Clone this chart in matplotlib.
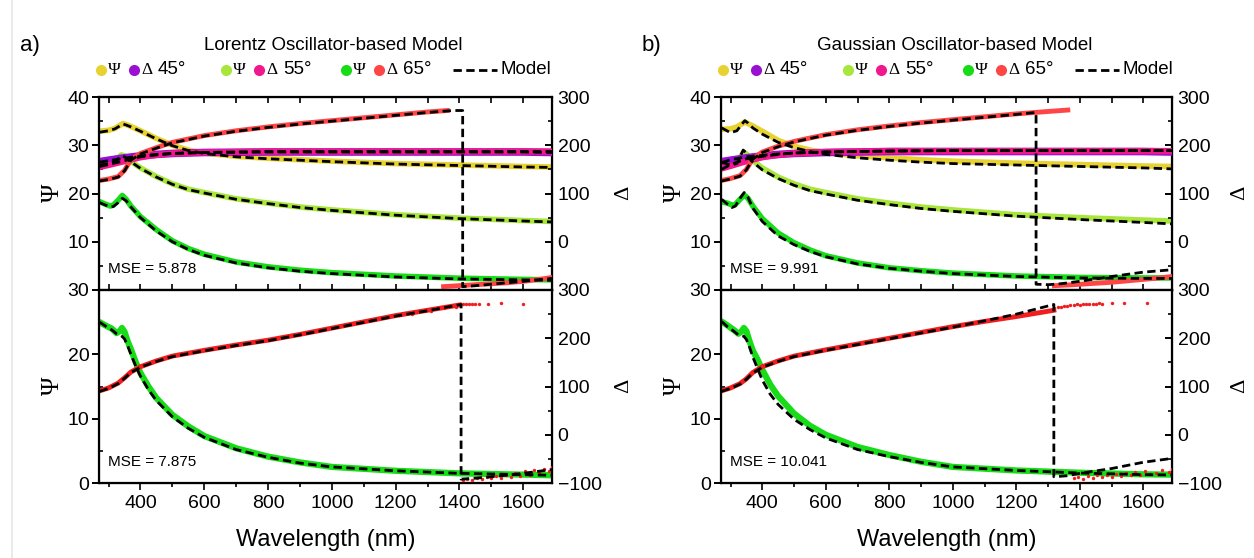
import matplotlib
matplotlib.use("Agg")
import matplotlib.pyplot as plt
from matplotlib.lines import Line2D
from matplotlib.ticker import MultipleLocator

# ---------------- DATA ----------------
# Panel a) Lorentz, top
a_wl_p45 = [272, 300, 320, 335, 345, 355, 370, 400, 450, 500, 550, 600, 700, 800, 900, 1000, 1200, 1400, 1600, 1690]
a_psi45 = [32.9, 33.1, 33.5, 34.1, 34.5, 34.3, 33.9, 33.0, 31.4, 30.0, 29.0, 28.4, 27.7, 27.3, 27.0, 26.7, 26.2, 25.9, 25.6, 25.5]
a_psi45_m = [32.7, 33.0, 33.4, 34.0, 34.4, 34.2, 33.8, 32.9, 31.3, 29.9, 28.9, 28.3, 27.6, 27.2, 26.9, 26.6, 26.1, 25.8, 25.5, 25.4]

a_wl_p55 = [272, 300, 320, 332, 340, 350, 365, 400, 450, 500, 550, 600, 700, 800, 900, 1000, 1200, 1400, 1600, 1690]
a_psi55 = [26.0, 26.3, 26.8, 27.5, 28.0, 27.8, 26.9, 25.3, 23.5, 22.0, 20.9, 20.2, 18.9, 18.0, 17.2, 16.6, 15.6, 14.9, 14.4, 14.2]
a_psi55_m = [25.9, 26.2, 26.7, 27.3, 27.7, 27.6, 26.8, 25.2, 23.4, 21.9, 20.8, 20.1, 18.8, 17.9, 17.1, 16.5, 15.5, 14.8, 14.3, 14.1]

a_wl_p65 = [272, 290, 305, 315, 330, 343, 355, 370, 400, 450, 500, 550, 600, 700, 800, 900, 1000, 1200, 1400, 1600, 1690]
a_psi65 = [18.3, 17.8, 17.4, 17.6, 18.6, 19.6, 18.8, 17.4, 15.2, 12.5, 10.2, 8.6, 7.4, 5.8, 4.8, 4.1, 3.6, 2.9, 2.45, 2.2, 2.1]
a_psi65_m = [18.1, 17.6, 17.2, 17.3, 18.1, 19.0, 18.5, 17.2, 15.0, 12.2, 10.0, 8.4, 7.2, 5.6, 4.6, 3.9, 3.4, 2.7, 2.3, 2.1, 2.0]

a_wl_d = [272, 300, 350, 400, 450, 500, 600, 800, 1000, 1200, 1400, 1600, 1690]
a_del45 = [166, 169, 174, 178, 181, 183, 185, 186, 186, 186, 186, 186, 185]
a_del55 = [155, 159, 167, 175, 180, 183, 185, 187, 187, 187, 187, 187, 187]
a_del45_m = [165, 168, 173, 178, 181, 183, 185, 186, 186, 186, 186, 186, 185]
a_del55_m = [156, 160, 168, 176, 180, 183, 185, 187, 187, 187, 187, 187, 187]

a_wl_d65 = [272, 300, 330, 350, 370, 400, 450, 500, 600, 700, 800, 900, 1000, 1100, 1200, 1300, 1362]
a_del65 = [127, 130, 135, 148, 170, 183, 195, 206, 220, 230, 238, 245, 251, 257, 263, 269, 272]
a_wl_d65w = [1350, 1400, 1450, 1500, 1550, 1600, 1650, 1690]
a_del65w = [-93, -91, -89, -87, -85, -82, -78, -74]
a_wl_d65_m = [272, 300, 330, 350, 370, 400, 450, 500, 600, 700, 800, 900, 1000, 1100, 1200, 1300, 1380, 1410, 1410, 1450, 1500, 1600, 1690]
a_del65_m = [126, 129, 134, 147, 169, 182, 194, 205, 219, 229, 237, 244, 250, 256, 262, 268, 272, 272, -93, -91, -88, -82, -76]

# Panel a) Lorentz, bottom
a_wl_b = [272, 290, 310, 325, 335, 342, 350, 360, 370, 385, 400, 425, 450, 500, 550, 600, 700, 800, 900, 1000, 1200, 1400, 1600, 1690]
a_psi65b = [25.0, 24.5, 24.0, 23.3, 23.6, 24.1, 23.5, 22.0, 20.8, 18.8, 17.1, 15.0, 13.2, 10.6, 8.8, 7.3, 5.4, 4.1, 3.2, 2.5, 1.9, 1.5, 1.3, 1.2]
a_psi65b_m = [25.0, 24.4, 23.8, 23.2, 23.0, 22.8, 22.4, 21.3, 20.0, 18.2, 16.6, 14.5, 12.8, 10.3, 8.5, 7.1, 5.2, 4.0, 3.1, 2.5, 1.9, 1.5, 1.3, 1.2]
a_wl_db = [272, 300, 330, 350, 370, 400, 450, 500, 600, 700, 800, 900, 1000, 1100, 1200, 1300, 1400]
a_del65b = [91, 97, 107, 118, 130, 141, 153, 163, 175, 186, 196, 208, 221, 234, 247, 258, 269]
a_wl_db_m = [272, 300, 330, 350, 370, 400, 450, 500, 600, 700, 800, 900, 1000, 1100, 1200, 1300, 1405, 1405, 1450, 1500, 1600, 1690]
a_del65b_m = [90, 96, 106, 117, 129, 140, 152, 162, 174, 185, 195, 207, 220, 233, 246, 257, 270, -92, -90, -87, -80, -72]
a_sc_wl = [1210, 1230, 1250, 1270, 1290, 1310, 1330, 1350, 1370, 1390, 1410, 1420, 1430, 1440, 1450, 1460, 1490, 1530, 1600,
           1410, 1425, 1440, 1455, 1470, 1485, 1500, 1515, 1530, 1545, 1560, 1575, 1590, 1605, 1620, 1635, 1650, 1665, 1680, 1690]
a_sc_del = [248, 252, 250, 256, 258, 257, 262, 263, 266, 265, 270, 271, 272, 270, 272, 271, 272, 273, 272,
            -93, -91, -94, -89, -92, -88, -90, -85, -89, -84, -87, -80, -85, -76, -83, -74, -80, -70, -76, -67]

# Panel b) Gaussian, top
b_psi45 = [33.3, 33.4, 33.8, 34.4, 34.8, 34.5, 34.0, 32.9, 31.0, 29.8, 29.0, 28.5, 27.8, 27.4, 27.0, 26.7, 26.3, 26.0, 25.7, 25.6]
b_psi45_m = [33.6, 32.6, 33.0, 34.3, 35.1, 34.6, 33.6, 32.3, 30.6, 29.5, 28.7, 28.1, 27.4, 26.9, 26.5, 26.2, 25.9, 25.6, 25.3, 25.1]
b_psi55 = [26.0, 26.3, 26.8, 27.6, 28.5, 28.2, 27.1, 25.3, 23.4, 22.0, 20.9, 20.2, 18.9, 18.0, 17.2, 16.6, 15.6, 15.0, 14.5, 14.3]
b_psi55_m = [26.5, 25.9, 26.2, 27.9, 29.0, 28.4, 26.8, 24.9, 23.1, 21.7, 20.6, 19.9, 18.6, 17.7, 16.9, 16.3, 15.3, 14.6, 14.0, 13.7]
b_psi65 = [18.3, 18.0, 17.6, 17.7, 18.8, 19.7, 19.0, 17.4, 14.8, 11.8, 9.8, 8.3, 7.1, 5.6, 4.6, 4.0, 3.5, 2.9, 2.6, 2.5, 2.5]
b_psi65_m = [18.8, 17.8, 17.1, 17.4, 19.0, 20.2, 19.2, 17.0, 14.2, 11.2, 9.4, 8.0, 6.9, 5.4, 4.5, 3.9, 3.4, 2.8, 2.5, 2.4, 2.4]
b_del45 = [166, 169, 174, 178, 181, 183, 185, 187, 187, 187, 187, 187, 186]
b_del55 = [152, 157, 167, 175, 180, 183, 186, 188, 188, 188, 188, 188, 188]
b_del45_m = [164, 170, 176, 179, 182, 184, 186, 188, 189, 189, 189, 189, 189]
b_del55_m = [150, 160, 172, 177, 181, 184, 186, 188, 189, 189, 189, 189, 189]
b_wl_d65 = [272, 300, 330, 350, 370, 400, 450, 500, 600, 700, 800, 900, 1000, 1100, 1200, 1300, 1362]
b_del65 = [127, 131, 137, 150, 172, 186, 198, 208, 222, 232, 240, 247, 253, 259, 265, 270, 273]
b_wl_d65w = [1320, 1380, 1450, 1500, 1550, 1600, 1650, 1690]
b_del65w = [-91, -89, -86, -84, -81, -78, -75, -72]
b_wl_d65_m = [272, 300, 330, 350, 370, 400, 450, 500, 600, 700, 800, 900, 1000, 1100, 1200, 1262, 1262, 1300, 1340, 1400, 1500, 1600, 1690]
b_del65_m = [126, 130, 136, 149, 171, 185, 197, 207, 221, 231, 239, 246, 252, 258, 264, 268, -88, -89, -87, -82, -72, -63, -58]

# Panel b) Gaussian, bottom
b_psi65b = [25.1, 24.5, 23.8, 23.2, 23.6, 24.1, 23.6, 22.0, 20.6, 19.2, 17.6, 15.3, 13.5, 10.8, 8.9, 7.5, 5.6, 4.35, 3.3, 2.5, 1.95, 1.6, 1.35, 1.3]
b_psi65b_m = [25.1, 24.3, 23.6, 23.0, 22.9, 22.8, 22.3, 21.1, 19.6, 17.8, 16.0, 13.8, 12.2, 9.9, 8.3, 7.0, 5.2, 4.1, 3.2, 2.5, 1.95, 1.55, 1.3, 1.25]
b_wl_db = [272, 300, 330, 350, 370, 400, 450, 500, 600, 700, 800, 900, 1000, 1100, 1200, 1300, 1318]
b_del65b = [91, 97, 106, 116, 129, 141, 153, 163, 176, 188, 200, 212, 224, 235, 245, 256, 258]
b_wl_db_m = [272, 300, 330, 350, 370, 400, 450, 500, 600, 700, 800, 900, 1000, 1100, 1200, 1318, 1318, 1360, 1400, 1500, 1600, 1690]
b_del65b_m = [90, 96, 105, 115, 128, 140, 152, 162, 175, 187, 199, 211, 223, 236, 250, 270, -87, -85, -80, -70, -57, -49]
b_sc_wl = [1320, 1330, 1340, 1350, 1360, 1370, 1380, 1390, 1400, 1410, 1420, 1430, 1440, 1450, 1460, 1470, 1500, 1540, 1610,
           1380, 1395, 1410, 1425, 1440, 1455, 1470, 1485, 1500, 1515, 1530, 1545, 1560, 1575, 1590, 1605, 1620, 1640, 1660, 1680, 1690]
b_sc_del = [262, 265, 264, 267, 266, 268, 268, 270, 269, 271, 270, 272, 271, 272, 273, 272, 273, 273, 273,
            -90, -88, -91, -86, -89, -84, -88, -83, -87, -82, -86, -80, -84, -78, -83, -76, -81, -79, -74, -77, -70]

titles = ["Lorentz Oscillator-based Model", "Gaussian Oscillator-based Model"]
panel_tags = ["a)", "b)"]
mse_top = ["MSE = 5.878", "MSE = 9.991"]
mse_bot = ["MSE = 7.875", "MSE = 10.041"]
xticks = [400, 600, 800, 1000, 1200, 1400, 1600]

# ---------------- STYLE ----------------
C_Y = "#E8D232"
C_PU = "#9A10D0"
C_LG = "#A8E63C"
C_PK = "#F0188C"
C_G = "#18DC18"
C_R = "#FF4646"
C_R2 = "#F01E1E"
SANS = "Liberation Sans"
SERIF = "Liberation Serif"
plt.rcParams["font.family"] = [SANS, "DejaVu Sans"]

W, H = 1254, 558
fig = plt.figure(figsize=(W / 100, H / 100), dpi=100)


def fx(px):
    return px / W


def fy(py):
    return 1 - py / H


panels = [(99, 552), (721, 1172)]
delta_label_x = [624, 1240]
top_y, mid_y, bot_y = 97, 290, 483

DASH = (0, (3.0, 1.6))


def style_axes(ax, ax2, bottom):
    for sp in ax.spines.values():
        sp.set_linewidth(1.6)
    ax.set_xlim(270, 1690)
    ax.xaxis.set_major_locator(MultipleLocator(200))
    ax.xaxis.set_minor_locator(MultipleLocator(100))
    ax.set_xticks(xticks)
    ax.tick_params(axis="y", which="major", direction="out", length=5, width=1.4, labelsize=14, pad=2)
    ax.tick_params(axis="y", which="minor", direction="in", length=3, width=1.2)
    ax.tick_params(axis="x", which="both", top=True, width=1.2)
    if bottom:
        ax.tick_params(axis="x", which="major", direction="out", length=5, labelsize=14, pad=4)
        ax.tick_params(axis="x", which="minor", direction="out", length=3)
        ax.tick_params(axis="x", which="both", top=False)
    else:
        ax.tick_params(axis="x", which="both", direction="in", labelbottom=False, length=4)
    ax2.tick_params(axis="y", which="major", direction="in", length=5, width=1.4, labelsize=14, pad=4)
    ax2.tick_params(axis="y", which="minor", direction="in", length=3, width=1.2)
    ax2.yaxis.set_major_locator(MultipleLocator(100))
    ax2.yaxis.set_minor_locator(MultipleLocator(50))
    ax2.set_ylim(-100, 300)


for k in range(2):
    x0, x1 = panels[k]
    # ------------ top axes ------------
    axt = fig.add_axes([fx(x0), fy(mid_y), fx(x1 - x0), fy(top_y) - fy(mid_y)])
    axt2 = axt.twinx()
    if k == 0:
        p45, p45m, p55, p55m, p65, p65m = a_psi45, a_psi45_m, a_psi55, a_psi55_m, a_psi65, a_psi65_m
        d45, d45m, d55, d55m = a_del45, a_del45_m, a_del55, a_del55_m
        d65wl, d65, d65wwl, d65w, d65mwl, d65m = a_wl_d65, a_del65, a_wl_d65w, a_del65w, a_wl_d65_m, a_del65_m
    else:
        p45, p45m, p55, p55m, p65, p65m = b_psi45, b_psi45_m, b_psi55, b_psi55_m, b_psi65, b_psi65_m
        d45, d45m, d55, d55m = b_del45, b_del45_m, b_del55, b_del55_m
        d65wl, d65, d65wwl, d65w, d65mwl, d65m = b_wl_d65, b_del65, b_wl_d65w, b_del65w, b_wl_d65_m, b_del65_m

    axt.plot(a_wl_p45, p45, color=C_Y, lw=4, solid_capstyle="round")
    axt.plot(a_wl_p55, p55, color=C_LG, lw=4, solid_capstyle="round")
    axt.plot(a_wl_p65, p65, color=C_G, lw=4, solid_capstyle="round")
    axt2.plot(a_wl_d, d45, color=C_PU, lw=5.5)
    axt2.plot(a_wl_d, d55, color=C_PK, lw=4.5)
    axt2.plot(d65wl, d65, color=C_R, lw=3.5)
    axt2.plot(d65wwl, d65w, color=C_R, lw=3.5)
    # model lines (drawn on top axes, Psi ones via the Psi data transform)
    for wl, yv in [(a_wl_p45, p45m), (a_wl_p55, p55m), (a_wl_p65, p65m)]:
        axt2.plot(wl, yv, color="black", lw=2.0, ls=DASH, transform=axt.transData)
    for wl, yv in [(a_wl_d, d45m), (a_wl_d, d55m), (d65mwl, d65m)]:
        axt2.plot(wl, yv, color="black", lw=2.0, ls=DASH)
    axt.set_ylim(0, 40)
    axt.yaxis.set_major_locator(MultipleLocator(10))
    axt.yaxis.set_minor_locator(MultipleLocator(5))
    style_axes(axt, axt2, bottom=False)
    axt.set_yticks([10, 20, 30, 40])
    axt2.set_yticks([0, 100, 200, 300])
    axt.text(0.02, 0.07, mse_top[k], transform=axt.transAxes, fontsize=11, va="bottom", ha="left")

    # ------------ bottom axes ------------
    axb = fig.add_axes([fx(x0), fy(bot_y), fx(x1 - x0), fy(mid_y) - fy(bot_y)])
    axb2 = axb.twinx()
    if k == 0:
        pb, pbm = a_psi65b, a_psi65b_m
        dbwl, db, dbmwl, dbm, scwl, scd = a_wl_db, a_del65b, a_wl_db_m, a_del65b_m, a_sc_wl, a_sc_del
    else:
        pb, pbm = b_psi65b, b_psi65b_m
        dbwl, db, dbmwl, dbm, scwl, scd = b_wl_db, b_del65b, b_wl_db_m, b_del65b_m, b_sc_wl, b_sc_del
    axb.plot(a_wl_b, pb, color=C_G, lw=4.5, solid_capstyle="round")
    axb2.plot(dbwl, db, color=C_R2, lw=3.5)
    axb2.scatter(scwl, scd, color=C_R2, s=6, lw=0)
    axb2.plot(a_wl_b, pbm, color="black", lw=2.0, ls=DASH, transform=axb.transData)
    axb2.plot(dbmwl, dbm, color="black", lw=2.0, ls=DASH)
    axb.set_ylim(0, 30)
    axb.yaxis.set_major_locator(MultipleLocator(10))
    axb.yaxis.set_minor_locator(MultipleLocator(5))
    style_axes(axb, axb2, bottom=True)
    axb.set_yticks([0, 10, 20, 30])
    axb2.set_yticks([-100, 0, 100, 200, 300])
    axb.set_xlim(270, 1690)
    axb.text(0.02, 0.07, mse_bot[k], transform=axb.transAxes, fontsize=11, va="bottom", ha="left")
    axb.set_xlabel("Wavelength (nm)", fontsize=17, labelpad=12)

    # axis titles
    xoff = x0 - 99
    fig.text(fx(53 + xoff), fy(193), "Ψ", family=SERIF, fontsize=18, rotation=90, ha="center", va="center")
    fig.text(fx(53 + xoff), fy(386), "Ψ", family=SERIF, fontsize=18, rotation=90, ha="center", va="center")
    fig.text(fx(delta_label_x[k]), fy(193), "Δ", family=SERIF, fontsize=16, rotation=90, ha="center", va="center")
    fig.text(fx(delta_label_x[k]), fy(386), "Δ", family=SERIF, fontsize=16, rotation=90, ha="center", va="center")

    # panel tag + title
    fig.text(fx(20 + xoff), fy(46), panel_tags[k], fontsize=16, ha="left", va="center")
    fig.text(fx(333 + xoff), fy(45), titles[k], fontsize=13.5, ha="center", va="center")

    # legend row
    ly = fy(70)
    groups = [(101, C_Y, C_PU, "45°"), (226, C_LG, C_PK, "55°"), (346, C_G, C_R, "65°")]
    for gx, c1, c2, lab in groups:
        fig.add_artist(Line2D([fx(gx + xoff)], [ly], marker="o", ms=8, color=c1, mew=0, ls="none"))
        fig.text(fx(gx + 7 + xoff), ly, "Ψ", family=SERIF, fontsize=12.5, ha="left", va="center")
        fig.add_artist(Line2D([fx(gx + 33 + xoff)], [ly], marker="o", ms=8, color=c2, mew=0, ls="none"))
        fig.text(fx(gx + 40 + xoff), ly, "Δ", family=SERIF, fontsize=12.5, ha="left", va="center")
        fig.text(fx(gx + 57 + xoff), ly, lab, fontsize=13.5, ha="left", va="center")
    fig.add_artist(Line2D([fx(453 + xoff), fx(497 + xoff)], [ly, ly], color="black", lw=2.0, ls=DASH))
    fig.text(fx(500 + xoff), ly, "Model", fontsize=13.5, ha="left", va="center")

# faint frame line on the left as in the reference
fig.add_artist(Line2D([fx(12), fx(12)], [0, 1], color="#E6E6E6", lw=1.2))

fig.savefig("out.png", dpi=100)
